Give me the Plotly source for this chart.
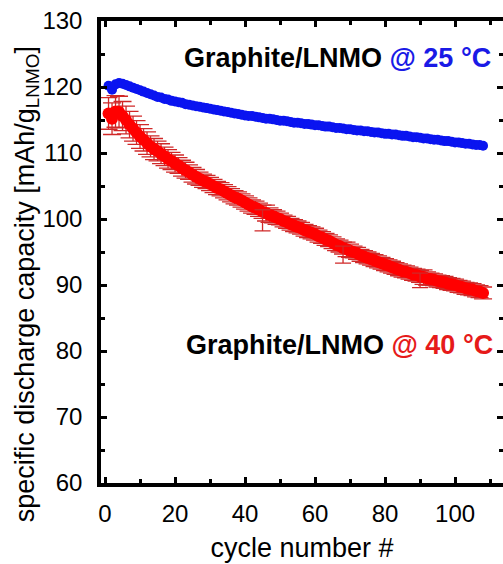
import plotly.graph_objects as go

cycles = list(range(1, 109))

cap_25C = [
    120.2, 119.6, 120.4, 120.6, 120.5, 120.3, 120.1, 119.9, 119.7, 119.5,
    119.3, 119.1, 118.9, 118.7, 118.5, 118.4, 118.2, 118.1, 117.9, 117.8,
    117.7, 117.6, 117.4, 117.3, 117.2, 117.1, 117.0, 116.9, 116.8, 116.7,
    116.6, 116.5, 116.4, 116.3, 116.2, 116.1, 116.0, 115.9, 115.8, 115.7,
    115.6, 115.6, 115.5, 115.4, 115.3, 115.2, 115.2, 115.1, 115.0, 114.9,
    114.9, 114.8, 114.7, 114.6, 114.6, 114.5, 114.4, 114.4, 114.3, 114.2,
    114.2, 114.1, 114.0, 114.0, 113.9, 113.8, 113.8, 113.7, 113.6, 113.6,
    113.5, 113.4, 113.4, 113.3, 113.3, 113.2, 113.1, 113.1, 113.0, 112.9,
    112.9, 112.8, 112.8, 112.7, 112.6, 112.6, 112.5, 112.4, 112.4, 112.3,
    112.2, 112.2, 112.1, 112.0, 112.0, 111.9, 111.8, 111.8, 111.7, 111.6,
    111.6, 111.5, 111.4, 111.4, 111.3, 111.2, 111.2, 111.1,
]

cap_40C = [
    116.0, 115.2, 116.3, 116.2, 115.6, 115.0, 114.3, 113.7, 113.1, 112.5,
    112.0, 111.5, 111.0, 110.6, 110.3, 109.9, 109.5, 109.1, 108.8, 108.4,
    108.1, 107.7, 107.4, 107.1, 106.7, 106.4, 106.1, 105.8, 105.6, 105.3,
    105.0, 104.7, 104.5, 104.2, 103.9, 103.6, 103.3, 103.1, 102.8, 102.5,
    102.2, 101.9, 101.7, 101.4, 101.1, 100.9, 100.6, 100.4, 100.2, 100.0,
    99.7, 99.5, 99.2, 99.0, 98.8, 98.6, 98.3, 98.1, 97.9, 97.7,
    97.4, 97.2, 96.9, 96.7, 96.4, 96.1, 95.9, 95.6, 95.4, 95.2,
    95.0, 94.8, 94.5, 94.3, 94.1, 93.9, 93.7, 93.5, 93.3, 93.1,
    92.9, 92.7, 92.5, 92.3, 92.1, 92.0, 91.8, 91.6, 91.5, 91.3,
    91.2, 91.0, 90.9, 90.8, 90.6, 90.5, 90.4, 90.2, 90.1, 90.0,
    89.8, 89.7, 89.5, 89.4, 89.3, 89.1, 89.0, 88.8,
]

err_40C = [
    2.4, 2.4, 2.4, 2.4, 2.2, 2.1, 2.0, 1.9, 1.8, 1.8,
    1.7, 1.7, 1.6, 1.6, 1.5, 1.5, 1.4, 1.4, 1.3, 1.3,
    1.2, 1.2, 1.2, 1.1, 1.1, 1.1, 1.0, 1.0, 1.0, 1.0,
    1.0, 1.0, 1.0, 1.0, 1.0, 1.0, 1.0, 1.0, 1.0, 1.0,
    1.0, 1.0, 1.0, 1.0, 1.0, 1.2, 1.1, 1.0, 1.0, 0.9,
    0.9, 0.9, 0.9, 0.9, 0.9, 0.9, 0.9, 0.9, 0.9, 0.9,
    0.9, 0.9, 0.9, 0.9, 0.9, 0.9, 0.9, 0.9, 1.1, 1.0,
    0.9, 0.9, 0.9, 0.9, 0.9, 0.9, 0.9, 0.9, 0.9, 0.9,
    0.9, 0.9, 0.9, 0.9, 0.9, 0.9, 0.9, 0.9, 0.9, 0.9,
    1.1, 1.0, 0.9, 0.9, 0.9, 0.9, 0.9, 0.9, 0.9, 0.9,
    0.9, 0.9, 0.9, 0.9, 0.9, 0.9, 0.9, 0.9,
]

checkup_cycles = [45, 68, 90]
checkup_40C = [99.8, 94.6, 90.7]
checkup_err = [1.6, 1.3, 1.1]

x_ticks = [0, 20, 40, 60, 80, 100]
y_ticks = [60, 70, 80, 90, 100, 110, 120, 130]

FONT = "Liberation Sans, Arial, sans-serif"
ERR_COLOR = "#d02828"

fig = go.Figure()

fig.add_trace(go.Scatter(
    x=cycles, y=cap_40C, mode="markers",
    marker=dict(color="#ff0000", size=12, line=dict(width=0)),
    error_y=dict(type="data", array=err_40C, visible=True,
                 color=ERR_COLOR, thickness=1.3, width=9),
    showlegend=False,
))

fig.add_trace(go.Scatter(
    x=checkup_cycles, y=checkup_40C, mode="markers",
    marker=dict(color="rgba(0,0,0,0)", size=8, symbol="circle-open",
                line=dict(color=ERR_COLOR, width=1.2)),
    error_y=dict(type="data", array=checkup_err, visible=True,
                 color=ERR_COLOR, thickness=1.3, width=8),
    showlegend=False,
))

fig.add_trace(go.Scatter(
    x=cycles, y=cap_25C, mode="markers",
    marker=dict(color="#0a14f0", size=10, line=dict(width=0)),
    showlegend=False,
))

# empty trace so the mirrored right-hand tick axis gets drawn
fig.add_trace(go.Scatter(x=[None], y=[None], yaxis="y2", mode="markers",
                         showlegend=False, hoverinfo="skip"))

fig.add_annotation(
    x=0.975, y=124.4, xref="paper", yref="y", xanchor="right", yanchor="middle",
    text="<b>Graphite/LNMO <span style='color:#1a1ae6'>@ 25 °C</span></b>",
    showarrow=False, font=dict(family=FONT, size=27, color="black"),
)
fig.add_annotation(
    x=0.98, y=80.9, xref="paper", yref="y", xanchor="right", yanchor="middle",
    text="<b>Graphite/LNMO <span style='color:#e61a1a'>@ 40 °C</span></b>",
    showarrow=False, font=dict(family=FONT, size=27, color="black"),
)
fig.add_annotation(
    x=-0.184, y=0.43, xref="paper", yref="paper", xanchor="center",
    yanchor="middle", textangle=-90, showarrow=False,
    text="specific discharge capacity [mAh/g<sub>LNMO</sub>]",
    font=dict(family=FONT, size=27, color="black"),
)

fig.update_layout(
    width=503, height=564,
    margin=dict(l=101, r=0, t=21, b=81),
    paper_bgcolor="white", plot_bgcolor="white",
    font=dict(family=FONT, size=24, color="black"),
    xaxis=dict(
        range=[-1.15, 113.7], tickvals=x_ticks, ticks="inside", ticklen=6,
        tickwidth=3, tickcolor="black", showline=True, linewidth=3.5,
        linecolor="black", mirror="ticks", showgrid=False, zeroline=False,
        ticklabelstandoff=6,
        minor=dict(dtick=10, tick0=0, ticks="inside", ticklen=4, tickwidth=3,
                   tickcolor="black", showgrid=False),
        title=dict(text="cycle number #", font=dict(size=27), standoff=14),
        tickfont=dict(size=24),
    ),
    yaxis=dict(
        range=[60, 130], tickvals=y_ticks, ticks="inside", ticklen=6,
        tickwidth=3, tickcolor="black", showline=True, linewidth=3.5,
        linecolor="black", mirror=False, showgrid=False, zeroline=False,
        ticklabelstandoff=10,
        minor=dict(dtick=5, tick0=0, ticks="inside", ticklen=4, tickwidth=3,
                   tickcolor="black", showgrid=False),
        tickfont=dict(size=24),
    ),
    yaxis2=dict(
        range=[60, 130], overlaying="y", side="right", tickvals=y_ticks,
        ticks="inside", ticklen=6, tickwidth=3, tickcolor="black",
        showline=False, showgrid=False, zeroline=False, showticklabels=False,
        minor=dict(dtick=5, tick0=0, ticks="inside", ticklen=4, tickwidth=3,
                   tickcolor="black", showgrid=False),
    ),
)

fig.write_html("out.html")
